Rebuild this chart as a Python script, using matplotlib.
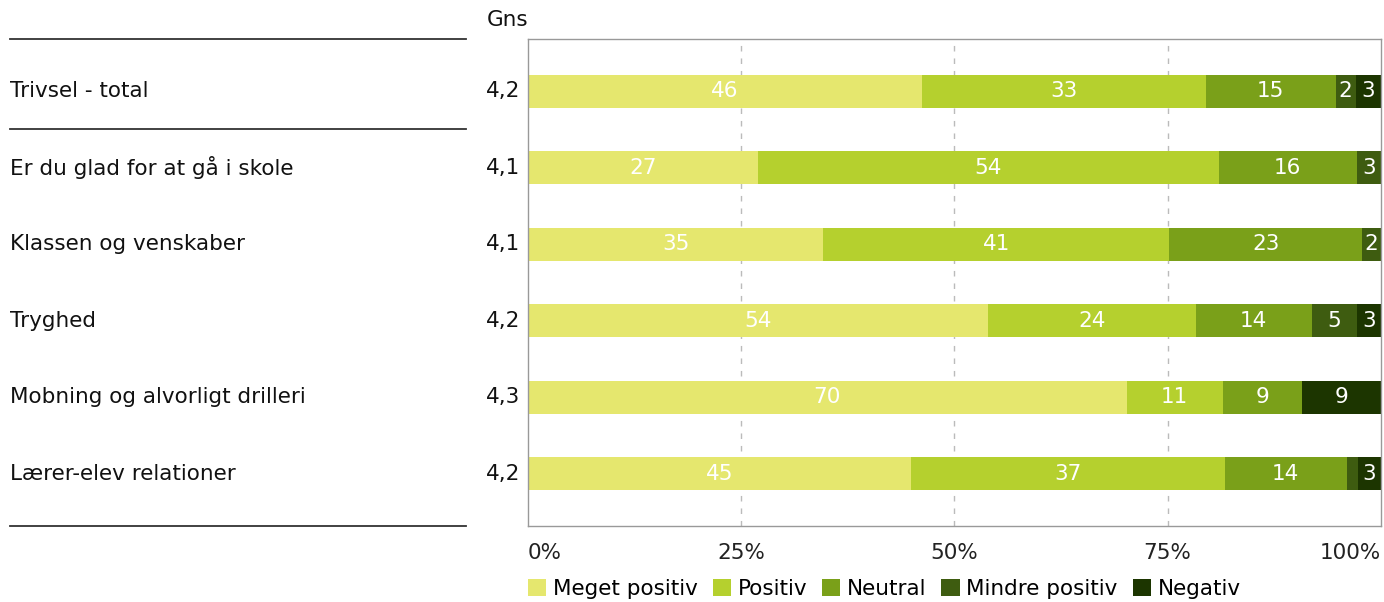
import matplotlib.pyplot as plt
import matplotlib.transforms as mtransforms
from matplotlib.patches import Patch

# Data
questions = ["Trivsel - total", "Er du glad for at gå i skole", "Klassen og venskaber",
             "Tryghed", "Mobning og alvorligt drilleri", "Lærer-elev relationer"]
gns = ["4,2", "4,1", "4,1", "4,2", "4,3", "4,2"]
categories = ["Meget positiv", "Positiv", "Neutral", "Mindre positiv", "Negativ"]
meget_positiv = [46.2, 27.0, 34.6, 54.0, 70.2, 44.9]
positiv = [33.3, 54.0, 40.6, 24.3, 11.3, 36.8]
neutral = [15.2, 16.2, 22.6, 13.6, 9.3, 14.3]
mindre_positiv = [2.4, 2.8, 2.2, 5.3, 0.0, 1.3]
negativ = [2.9, 0.0, 0.0, 2.8, 9.2, 2.7]
colors = ["#e5e76e", "#b5d02e", "#7aa019", "#3e5c10", "#1c3500"]
xticks = [0, 25, 50, 75, 100]

series = [meget_positiv, positiv, neutral, mindre_positiv, negativ]

plt.rcParams['font.family'] = ['DejaVu Sans']
fs = 15.5

fig = plt.figure(figsize=(13.84, 6.02), dpi=100)
W, H = 1384, 602
ax = fig.add_axes([528 / W, 1 - 526 / H, (1380.7 - 528) / W, (526 - 39) / H])

rows = list(range(len(questions)))
left = [0.0] * len(questions)
for vals, col, name in zip(series, colors, categories):
    ax.barh(rows, vals, left=left, height=0.43, color=col, label=name, zorder=2)
    for r, v, l in zip(rows, vals, left):
        if v >= 2:
            ax.text(l + v / 2, r, f"{round(v):d}", ha="center", va="center",
                    color="white", fontsize=fs, zorder=3)
    left = [a + b for a, b in zip(left, vals)]

ax.set_xlim(0, 100)
ax.set_ylim(5.68, -0.68)
ax.set_yticks([])
ax.set_xticks(xticks)
labels = ax.set_xticklabels([f"{t}%" for t in xticks], fontsize=fs, color="#222222")
labels[0].set_ha("left")
labels[-1].set_ha("right")
ax.tick_params(axis="x", length=0, pad=12)
for t in xticks[1:-1]:
    ax.axvline(t, color="#bbbbbb", lw=1, ls=(0, (4, 5)), zorder=1)
for s in ax.spines.values():
    s.set_color("#999999")
    s.set_linewidth(1)

# left panel: labels, averages and rules
tr = mtransforms.blended_transform_factory(fig.transFigure, ax.transData)
for r, q, g in zip(rows, questions, gns):
    ax.text(10 / W, r, q, transform=tr, ha="left", va="center", fontsize=fs,
            color="#111111", clip_on=False)
    ax.text(520 / W, r, g, transform=tr, ha="right", va="center", fontsize=fs,
            color="#111111", clip_on=False)
for y in [-0.68, 0.5, 5.68]:
    ax.plot([10 / W, 466 / W], [y, y], transform=tr, color="#333333", lw=1.3,
            clip_on=False)
fig.text(487 / W, 1 - 20 / H, "Gns", ha="left", va="center", fontsize=fs, color="#111111")

handles = [Patch(facecolor=c, label=n) for c, n in zip(colors, categories)]
fig.legend(handles=handles, loc="center left", bbox_to_anchor=(528 / W, 1 - 589 / H),
           ncol=5, frameon=False, fontsize=fs, handlelength=0.85, handleheight=0.85,
           handletextpad=0.3, columnspacing=0.7, borderpad=0, borderaxespad=0)

fig.savefig("out.png", dpi=100)
